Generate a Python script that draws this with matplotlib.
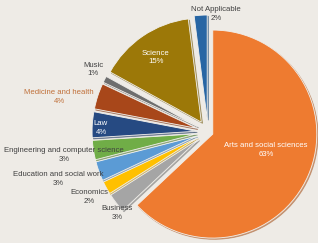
import matplotlib
matplotlib.use("Agg")
import matplotlib.pyplot as plt

# data, clockwise from 12 o'clock
categories = ["Arts and social sciences", "Business", "Economics",
              "Education and social work", "Engineering and computer science",
              "Law", "Medicine and health", "Music", "Science", "Not Applicable"]
shares = [63, 3, 2, 3, 3, 4, 4, 1, 15, 2]

colors = ["#EE7B30", "#A5A5A5", "#FFC000", "#5B9BD5", "#70AD47",
          "#264A82", "#A8471A", "#6E6E6E", "#9C7808", "#2866A4"]
explode = [0.05, 0.115, 0.115, 0.115, 0.115, 0.115, 0.115, 0.115, 0.115, 0.125]

# label anchor points in pixels (x, y from top) and text colours
label_pos = [(266, 150), (117, 213), (89, 197), (58, 179), (64, 155),
             (101, 128), (59, 97), (93, 69.5), (156, 57.5), (216, 14)]
label_col = ["white", "#404040", "#404040", "#404040", "#404040",
             "white", "#C0703A", "#404040", "white", "#404040"]

W, H = 318, 243
fig = plt.figure(figsize=(W / 100, H / 100), dpi=100)
fig.patch.set_facecolor("#EEEBE6")
ax = fig.add_axes([0, 0, 1, 1])

cx, cy, r = 208, H - 132, 104
ax.pie(shares, colors=colors, explode=[e * r for e in explode], startangle=90,
       counterclock=False, center=(cx, cy), radius=r, frame=True,
       wedgeprops=dict(edgecolor="#F2F0EC", linewidth=0.6),
       shadow=dict(ox=0.9, oy=-0.9, shade=0.3))
ax.set_xlim(0, W)
ax.set_ylim(0, H)
ax.set_aspect("equal")
ax.axis("off")

for name, val, (x, y), c in zip(categories, shares, label_pos, label_col):
    ax.text(x, H - y, f"{name}\n{val}%", ha="center", va="center", color=c,
            fontsize=5.6, family="Liberation Sans", linespacing=1.35)

fig.savefig("out.png", dpi=100, facecolor=fig.get_facecolor())
